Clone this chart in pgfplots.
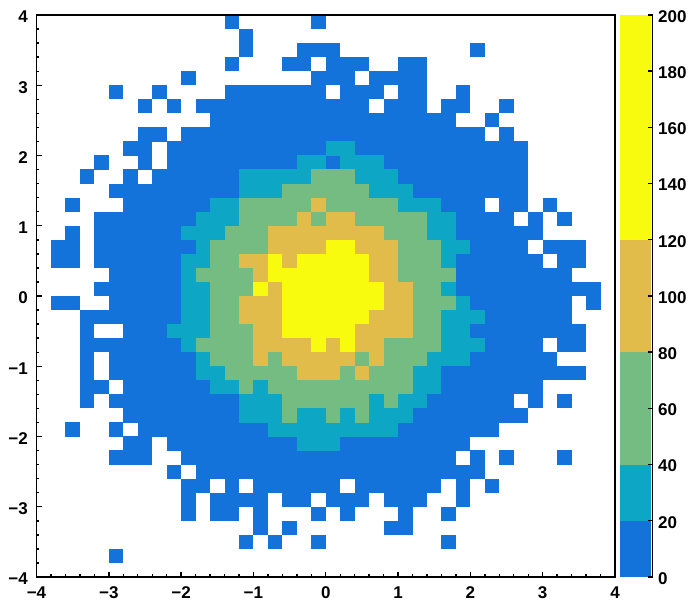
\documentclass[border=0pt]{standalone}
\usepackage{fontspec}
\setmainfont{Liberation Sans}
\usepackage{pgfplots}
\usepackage{pgfplotstable}
\pgfplotsset{compat=1.18}

\definecolor{c1}{RGB}{19,115,219}
\definecolor{c2}{RGB}{13,167,197}
\definecolor{c3}{RGB}{117,188,130}
\definecolor{c4}{RGB}{226,188,75}
\definecolor{c5}{RGB}{249,251,14}

% filled bins, one run per line piece: r = row from the top, a..b = columns from the left
% bins are 0.2 wide, 40 x 40 over -4..4; each level is painted over the one below
\pgfplotstableread[row sep=\\]{r a b\\
0 13 13\\ 0 19 19\\ 1 14 14\\ 2 14 14\\ 2 18 20\\ 2 30 30\\
3 13 13\\ 3 17 18\\ 3 20 22\\ 3 25 26\\
4 10 10\\ 4 19 21\\ 4 23 26\\
5 5 5\\ 5 8 8\\ 5 13 19\\ 5 21 23\\ 5 25 26\\ 5 29 29\\
6 7 7\\ 6 9 9\\ 6 11 22\\ 6 24 26\\ 6 28 29\\ 6 32 32\\
7 12 28\\ 7 31 31\\
8 7 8\\ 8 10 30\\ 8 32 32\\
9 6 7\\ 9 9 33\\
10 4 4\\ 10 7 7\\ 10 9 33\\
11 3 3\\ 11 6 6\\ 11 8 33\\
12 5 33\\
13 2 2\\ 13 6 30\\ 13 32 33\\ 13 35 35\\
14 4 32\\ 14 34 34\\ 14 36 36\\
15 2 2\\ 15 4 34\\
16 1 2\\ 16 4 33\\ 16 35 37\\
17 1 2\\ 17 4 34\\ 17 36 37\\
18 5 36\\
19 4 38\\
20 1 2\\ 20 5 36\\ 20 38 38\\
21 3 36\\
22 3 3\\ 22 6 37\\
23 3 34\\ 23 36 37\\
24 3 3\\ 24 5 35\\
25 3 3\\ 25 5 37\\
26 3 4\\ 26 6 34\\
27 3 3\\ 27 5 32\\ 27 34 34\\ 27 36 36\\
28 6 33\\
29 2 2\\ 29 5 5\\ 29 7 31\\
30 6 7\\ 30 9 29\\
31 5 7\\ 31 10 28\\ 31 30 30\\ 31 32 32\\ 31 36 36\\
32 9 9\\ 32 11 30\\
33 10 11\\ 33 13 13\\ 33 15 20\\ 33 22 27\\ 33 29 29\\ 33 31 31\\
34 10 10\\ 34 12 15\\ 34 17 18\\ 34 20 22\\ 34 24 26\\ 34 29 29\\
35 10 10\\ 35 12 13\\ 35 15 15\\ 35 19 19\\ 35 21 21\\ 35 25 25\\ 35 28 28\\
36 15 15\\ 36 17 17\\ 36 24 25\\
37 14 14\\ 37 16 16\\ 37 19 19\\ 37 28 28\\
38 5 5\\
}\levelone

\pgfplotstableread[row sep=\\]{r a b\\
9 20 21\\ 10 18 19\\ 10 21 23\\ 11 14 24\\ 12 14 25\\ 13 12 27\\ 14 11 28\\
15 10 28\\ 16 11 29\\ 17 10 28\\ 18 10 10\\ 19 10 28\\ 20 10 29\\ 21 10 30\\
22 9 29\\ 23 10 30\\ 24 11 29\\ 25 11 27\\ 26 12 27\\ 27 14 26\\ 28 14 25\\
29 16 24\\ 30 18 20\\
}\leveltwo

\pgfplotstableread[row sep=\\]{r a b\\
11 19 21\\ 12 17 22\\ 13 14 24\\ 14 14 26\\ 15 13 26\\ 16 12 27\\ 17 12 27\\
18 11 28\\ 19 12 27\\ 20 12 28\\ 21 12 27\\ 22 12 27\\ 23 11 27\\ 24 12 26\\
25 13 25\\ 26 14 14\\ 26 16 25\\ 27 17 22\\ 27 24 24\\ 28 17 17\\ 28 20 20\\ 28 22 22\\
}\levelthree

\pgfplotstableread[row sep=\\]{r a b\\
13 19 19\\ 14 18 18\\ 14 20 21\\ 15 16 23\\ 16 16 24\\ 17 14 24\\ 18 15 24\\
19 15 25\\ 20 14 25\\ 21 14 25\\ 22 15 25\\ 23 15 23\\
24 15 15\\ 24 17 21\\ 24 23 23\\ 25 18 20\\ 25 22 22\\
}\levelfour

\pgfplotstableread[row sep=\\]{r a b\\
16 20 21\\ 17 16 16\\ 17 18 22\\ 18 16 22\\ 19 15 15\\ 19 17 23\\
20 17 23\\ 21 17 22\\ 22 17 21\\ 23 19 19\\ 23 21 21\\
}\levelfive

\pgfplotsset{
    bins/.style={
        no marks, forget plot, draw=none,
        error bars/.cd,
            x dir=plus, x explicit, error mark=none,
            error bar style={line width=14.2bp, draw=#1},
    },
    binrow/.style={
        /pgfplots/table/.cd,
        x expr=-4+0.2*\thisrow{a},
        y expr=3.9-0.2*\thisrow{r},
        x error expr=0.2*(\thisrow{b}-\thisrow{a}+1),
    },
    rootfont/.style={font=\fontsize{17bp}{17bp}\selectfont\bfseries},
}

\begin{document}
\begin{tikzpicture}
    \useasboundingbox (0bp,0bp) rectangle (690bp,600bp);
    \begin{axis}[
        at={(36.5bp,23bp)}, anchor=south west,
        scale only axis,
        width=578.5bp, height=562bp,
        xmin=-4, xmax=4, ymin=-4, ymax=4,
        axis on top,
        axis line style={line width=1.8bp, black},
        tick align=inside,
        xtick pos=bottom, ytick pos=left,
        xtick={-4,-3,-2,-1,0,1,2,3,4},
        ytick={-4,-3,-2,-1,0,1,2,3,4},
        xticklabels={−4,−3,−2,−1,0,1,2,3,4},
        yticklabels={−4,−3,−2,−1,0,1,2,3,4},
        minor x tick num=4, minor y tick num=4,
        major tick length=5bp, minor tick length=2.5bp,
        every tick/.style={line width=1.4bp, black},
        xticklabel style={rootfont, inner sep=0pt, yshift=-9.5bp},
        yticklabel style={rootfont, inner sep=0pt, xshift=-8.5bp, yshift=-2bp},
    ]
        \addplot[bins=c1] table[binrow] {\levelone};
        \addplot[bins=c2] table[binrow] {\leveltwo};
        \addplot[bins=c3] table[binrow] {\levelthree};
        \addplot[bins=c4] table[binrow] {\levelfour};
        \addplot[bins=c5] table[binrow] {\levelfive};
    \end{axis}

    % palette
    \begin{axis}[
        at={(619.5bp,23bp)}, anchor=south west,
        scale only axis,
        width=33bp, height=562bp,
        ybar stacked, bar width=31bp,
        xmin=-0.47, xmax=0.53, ymin=0, ymax=200,
        axis x line=none,
        axis y line*=right,
        axis on top,
        axis line style={line width=1.4bp, black},
        tick align=inside,
        xtick=\empty,
        ytick={0,20,40,60,80,100,120,140,160,180,200},
        yticklabels={0,20,40,60,80,100,120,140,160,180,200},
        major tick length=5bp,
        minor y tick num=0,
        every tick/.style={line width=1.4bp, black},
        yticklabel style={rootfont, inner sep=0pt, xshift=5.5bp, yshift=-1.5bp},
    ]
        \addplot[fill=c1, draw=none] coordinates {(0,20)};
        \addplot[fill=c2, draw=none] coordinates {(0,20)};
        \addplot[fill=c3, draw=none] coordinates {(0,40)};
        \addplot[fill=c4, draw=none] coordinates {(0,40)};
        \addplot[fill=c5, draw=none] coordinates {(0,80)};
    \end{axis}
\end{tikzpicture}
\end{document}
